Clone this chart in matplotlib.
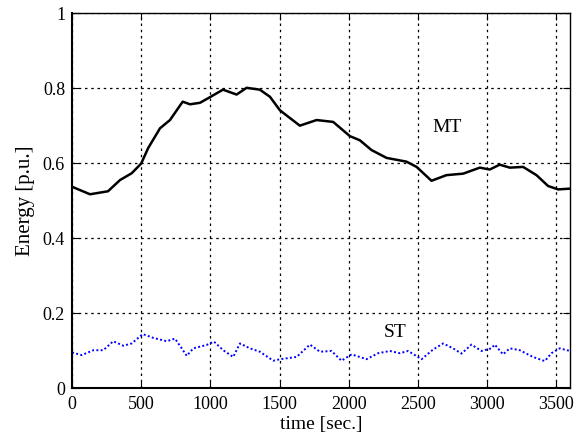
import matplotlib
matplotlib.use("Agg")
import matplotlib.pyplot as plt

plt.rcParams['font.family'] = ['Liberation Serif', 'DejaVu Serif']

# MT energy
t_mt = [0, 130, 260, 347, 431, 500, 550, 636, 708, 800, 853, 925, 997, 1091,
        1190, 1262, 1358, 1431, 1503, 1647, 1768, 1888, 2009, 2081, 2165, 2274,
        2418, 2491, 2599, 2707, 2828, 2948, 3020, 3092, 3165, 3261, 3358, 3442,
        3514, 3600]
e_mt = [0.537, 0.517, 0.525, 0.555, 0.573, 0.599, 0.64, 0.693, 0.715, 0.764,
        0.757, 0.761, 0.776, 0.796, 0.783, 0.801, 0.796, 0.777, 0.741, 0.70,
        0.715, 0.71, 0.672, 0.661, 0.635, 0.614, 0.604, 0.59, 0.553, 0.568,
        0.572, 0.588, 0.583, 0.596, 0.588, 0.59, 0.568, 0.539, 0.53, 0.532]

# ST energy
t_st = [0, 70, 154, 226, 298, 371, 431, 511, 587, 684, 744, 793, 829, 877,
        973, 1026, 1093, 1165, 1214, 1286, 1358, 1455, 1503, 1624, 1720, 1792,
        1876, 1948, 2021, 2129, 2213, 2298, 2370, 2430, 2527, 2611, 2683, 2755,
        2816, 2888, 2960, 3032, 3056, 3116, 3165, 3237, 3333, 3418, 3466, 3526,
        3600]
e_st = [0.095, 0.088, 0.101, 0.101, 0.125, 0.113, 0.119, 0.144, 0.134, 0.125,
        0.132, 0.106, 0.086, 0.106, 0.115, 0.124, 0.101, 0.083, 0.119, 0.106,
        0.097, 0.073, 0.077, 0.083, 0.116, 0.097, 0.099, 0.073, 0.09, 0.077,
        0.093, 0.099, 0.093, 0.099, 0.077, 0.103, 0.119, 0.106, 0.092, 0.116,
        0.099, 0.106, 0.116, 0.09, 0.106, 0.101, 0.083, 0.072, 0.093, 0.106,
        0.099]

xticks = [0, 500, 1000, 1500, 2000, 2500, 3000, 3500]
yticks = [0, 0.2, 0.4, 0.6, 0.8, 1]

fig = plt.figure(figsize=(5.81, 4.40), dpi=100)
ax = fig.add_axes([0.124, 0.118, 0.857, 0.852])

ax.plot(t_mt, e_mt, color='black', lw=1.8)
ax.plot(t_st, e_st, color='#0000ff', lw=1.4, linestyle=(0, (1, 1.2)))

ax.text(2710, 0.695, 'MT', fontsize=14, ha='center', va='center')
ax.text(2335, 0.149, 'ST', fontsize=14, ha='center', va='center')

ax.set_xlim(0, 3600)
ax.set_ylim(0, 1)
ax.set_xticks(xticks)
ax.set_yticks(yticks)
ax.set_yticklabels(['0', '0.2', '0.4', '0.6', '0.8', '1'])
ax.tick_params(direction='in', labelsize=13, length=5, top=True, right=True)
ax.tick_params(axis='x', pad=6)
ax.tick_params(axis='y', pad=5)
ax.grid(True, color='black', linestyle=(0, (2, 3)), lw=0.9)
for s in ax.spines.values():
    s.set_linewidth(1.0)
ax.spines['left'].set_linewidth(1.5)
ax.spines['bottom'].set_linewidth(1.5)

ax.set_xlabel('time [sec.]', fontsize=14, labelpad=2)
ax.set_ylabel('Energy [p.u.]', fontsize=15, labelpad=6)

fig.savefig('out.png', dpi=100)
